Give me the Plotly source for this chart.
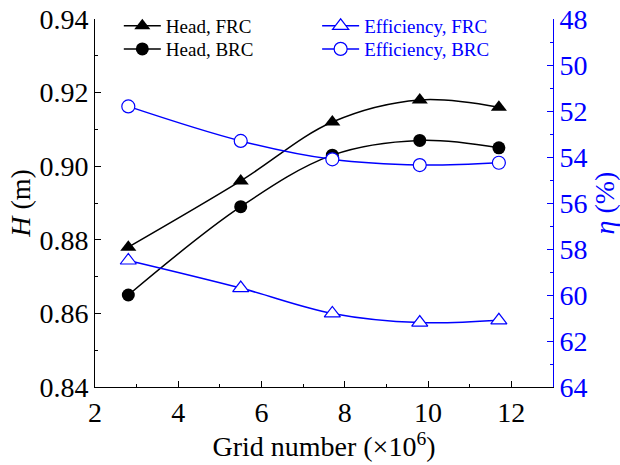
import plotly.graph_objects as go

grid = [2.8, 5.5, 7.7, 9.8, 11.7]
head_frc = [0.878, 0.896, 0.912, 0.918, 0.916]
head_brc = [0.865, 0.889, 0.903, 0.907, 0.905]
eff_frc = [58.5, 59.7, 60.8, 61.2, 61.1]
eff_brc = [51.8, 53.3, 54.1, 54.35, 54.25]

FONT = "Liberation Serif"
BLUE = "#0000ff"
TS = 28

fig = go.Figure()
fig.add_trace(go.Scatter(x=grid, y=head_frc, name="Head, FRC", mode="lines+markers",
                         line=dict(color="black", width=1.5, shape="spline"),
                         marker=dict(symbol="triangle-up", size=14, color="black"),
                         legend="legend", showlegend=True))
fig.add_trace(go.Scatter(x=grid, y=head_brc, name="Head, BRC", mode="lines+markers",
                         line=dict(color="black", width=1.5, shape="spline"),
                         marker=dict(symbol="circle", size=13, color="black"),
                         legend="legend2", showlegend=True))
fig.add_trace(go.Scatter(x=grid, y=eff_frc, name="Efficiency, FRC", mode="lines+markers",
                         line=dict(color=BLUE, width=1.5, shape="spline"),
                         marker=dict(symbol="triangle-up", size=14, color="white",
                                     line=dict(color=BLUE, width=1.2)),
                         yaxis="y2", legend="legend3", showlegend=True))
fig.add_trace(go.Scatter(x=grid, y=eff_brc, name="Efficiency, BRC", mode="lines+markers",
                         line=dict(color=BLUE, width=1.5, shape="spline"),
                         marker=dict(symbol="circle", size=13, color="white",
                                     line=dict(color=BLUE, width=1.2)),
                         yaxis="y2", legend="legend4", showlegend=True))

Y1, Y2 = 1.0327, 0.970
XL, XR = 0.052, 0.485

def leg(x, y, color):
    return dict(x=x, y=y, xanchor="left", yanchor="top", bgcolor="rgba(0,0,0,0)",
                font=dict(size=19, color=color), itemwidth=37)

fig.update_layout(
    width=620, height=465,
    showlegend=True,
    margin=dict(l=95, r=67, t=19, b=78, autoexpand=False),
    paper_bgcolor="white", plot_bgcolor="white",
    font=dict(family=FONT, size=TS, color="black"),
    xaxis=dict(range=[2, 13], tickvals=[2, 4, 6, 8, 10, 12], ticks="inside", ticklen=6,
               tickcolor="black", showline=True, linecolor="black", linewidth=1,
               showgrid=False, zeroline=False, tickfont=dict(size=TS),
               minor=dict(dtick=1, ticks="inside", ticklen=3, tickcolor="black"),
               title=dict(text="Grid number (×10<sup>6</sup>)", font=dict(size=TS), standoff=4)),
    yaxis=dict(range=[0.84, 0.94], dtick=0.02, tickformat=".2f", ticks="inside", ticklen=6,
               tickcolor="black", showline=True, linecolor="black", linewidth=1,
               showgrid=False, zeroline=False, tickfont=dict(size=TS),
               minor=dict(dtick=0.01, ticks="inside", ticklen=3, tickcolor="black"),
               title=dict(text="<i>H</i> (m)", font=dict(size=TS), standoff=0)),
    yaxis2=dict(range=[64, 48], dtick=2, overlaying="y", side="right", ticks="inside",
                ticklen=6, tickcolor=BLUE, showline=True, linecolor=BLUE, linewidth=1,
                showgrid=False, zeroline=False, tickfont=dict(color=BLUE, size=TS),
                minor=dict(dtick=1, ticks="inside", ticklen=3, tickcolor=BLUE),
                title=dict(text="<i>η</i> (%)", font=dict(size=TS, color=BLUE), standoff=11)),
    legend=leg(XL, Y1, "black"),
    legend2=leg(XL, Y2, "black"),
    legend3=leg(XR, Y1, BLUE),
    legend4=leg(XR, Y2, BLUE),
)

fig.write_html("out.html")
